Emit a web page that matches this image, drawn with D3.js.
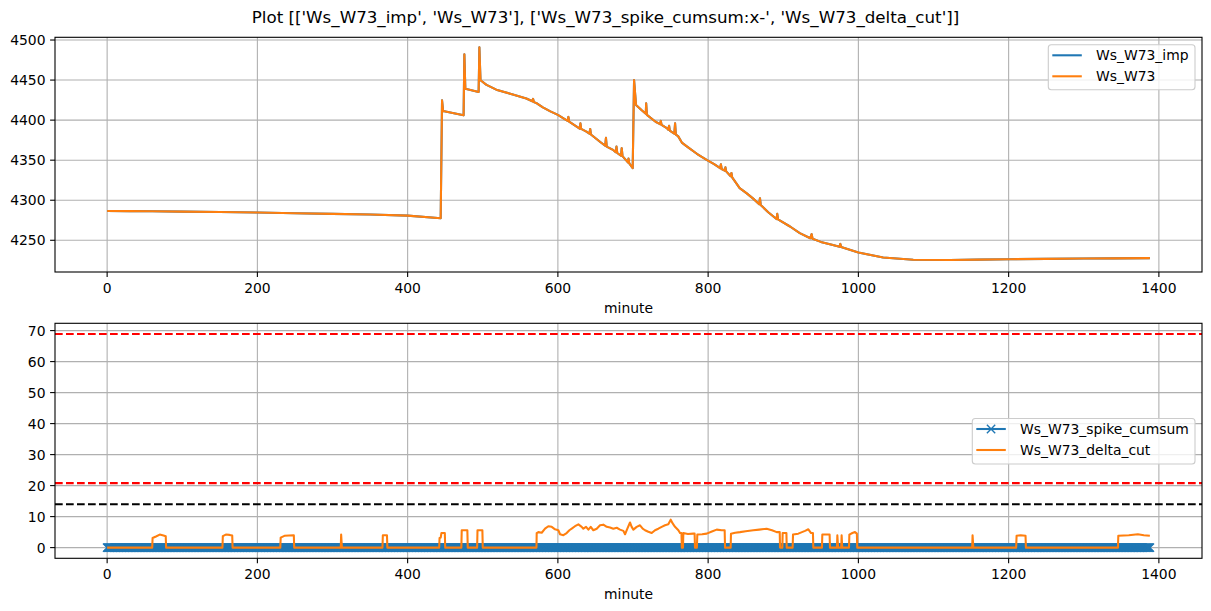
<!DOCTYPE html>
<html>
<head>
<meta charset="utf-8">
<script src="https://cdn.jsdelivr.net/npm/d3@7"></script>
<style>
  html, body { margin: 0; padding: 0; background: #fff; }
  svg { display: block; font-family: "DejaVu Sans", sans-serif; }
</style>
</head>
<body>
<svg id="chart" width="1211" height="611"></svg>
<script>
// ---------------- DATA ----------------
const titleText = "Plot [['Ws_W73_imp', 'Ws_W73'], ['Ws_W73_spike_cumsum:x-', 'Ws_W73_delta_cut']]";
const xTicks = [0, 200, 400, 600, 800, 1000, 1200, 1400];
const topYTicks = [4250, 4300, 4350, 4400, 4450, 4500];
const bottomYTicks = [0, 10, 20, 30, 40, 50, 60, 70];
const xLabel = "minute";
const topSeriesNames = ["Ws_W73_imp", "Ws_W73"];
const bottomSeriesNames = ["Ws_W73_spike_cumsum", "Ws_W73_delta_cut"];

// Ws_W73: [minute, value]
const wsW73 = [
  [0,4286.5],[30,4286.4],[60,4286.2],[100,4285.8],[150,4285.2],[200,4284.6],[250,4283.8],
  [300,4283.0],[350,4282.2],[400,4280.8],[444,4277.5],[445.8,4424.8],[447.2,4411.5],[460,4409],
  [474.5,4406],[475.5,4482.3],[476.8,4439.3],[494.5,4435.2],[495.5,4491],[497,4449.8],[505,4444],
  [518,4438],[540,4432],[558,4427],[566,4423.5],[567,4426.5],[568,4422.5],[572,4421],[580,4416],
  [590,4411],[600,4406.5],[608,4402],[613,4399],[614,4404],[615,4398],[625,4392],[629,4389.5],
  [630,4396],[631,4389],[638,4385.7],[642,4383],[643,4389],[644,4382],[656,4373],[663,4368],
  [664,4378],[665,4367],[674,4362.5],[677,4360],[678,4367],[679,4359],[684,4355.5],[685,4365],
  [686,4355],[693.5,4347],[694,4352],[695,4346],[699.6,4340],[701.4,4450],[704,4419],[712,4412],
  [717,4408],[717.5,4421],[718.5,4406.5],[730,4398],[736,4395],[737,4399],[738,4394],[745,4390],
  [747,4388],[748,4393],[749,4387],[755,4383],[756,4396],[757,4382],[760,4380],[765,4372],
  [772,4367],[785,4358],[798,4350.4],[808,4345],[816,4340],[817,4345],[818,4339],[822,4337],
  [823,4341],[824,4336],[830,4330],[831,4334],[832,4328.5],[842,4315],[851,4308.8],[860,4302],
  [868,4295],[869,4302.5],[870,4294],[880,4285],[891,4276.5],[892,4283],[893,4276],[909,4267.2],
  [922,4259],[936,4252.6],[937.8,4257.6],[939,4252],[950,4248],[966,4244],[975,4242],[976,4245.5],
  [977,4241.5],[1000,4234.7],[1033,4228.5],[1073,4225.6],[1122,4225.4],[1160,4225.8],[1202,4226.4],
  [1250,4226.8],[1300,4227.2],[1340,4227.4],[1388,4227.7]
];
// Ws_W73_imp coincides with Ws_W73 in the picture (fully hidden beneath it)
const wsW73Imp = wsW73;

// Ws_W73_delta_cut: [minute, value]
const deltaCut = [
  [0,0],[60,0],[60.5,3.1],[65,3.6],[70,4.2],[75,3.9],[78,3.7],[78.5,0],
  [153.5,0],[154,3.7],[158,4.2],[163,4.1],[166.5,3.9],[167,0],
  [230.5,0],[231,3.2],[236,3.8],[242,3.9],[248.5,4.0],[249,0],
  [311,0],[311.5,4.2],[312.5,0],
  [366.5,0],[367,4.0],[372.5,4.0],[373,0],
  [442,0],[442.5,3.1],[444,3.2],[445,4.7],[449.5,4.7],[450,0],
  [471.5,0],[472,5.6],[479.5,5.6],[480,0],
  [492.5,0],[493,5.6],[499.5,5.6],[500,0],
  [571.5,0],[571.8,4.7],[574,5.0],[578.5,4.8],[582.9,6.1],[587.3,6.9],[591.8,6.7],[596.2,5.9],
  [600.6,5.6],[602.9,4.3],[607.3,4.0],[611.7,4.7],[615.3,5.6],[618.4,6.1],[622.8,6.9],[627.3,7.5],
  [631.7,6.7],[633.9,6.1],[637.5,6.7],[640.6,5.8],[643.7,6.7],[647.2,5.6],[651.7,6.1],[656.1,7.2],
  [660.5,7.4],[665,6.7],[669.4,6.5],[673.8,6.1],[678.3,6.4],[682.7,5.8],[687.2,5.4],[689.4,4.3],
  [692.5,6.1],[696,8.1],[698.2,6.7],[700.5,5.8],[704.9,6.7],[709.3,7.2],[712.9,6.1],[716,5.6],
  [720.4,5.1],[724.9,4.7],[729.3,5.6],[733.7,6.1],[738.2,6.7],[742.6,7.2],[747,7.5],[750.2,9.0],
  [752.8,7.8],[755.9,6.7],[760.4,5.6],[762.6,4.7],[764.5,4.7],[765,0],[766.5,0],[767,4.7],
  [773,4.4],[780.3,4.5],[782,4.5],
  [782.5,0],[785,0],[785.6,4.2],[792,4.3],[798.1,4.5],[805,5.2],[811.4,5.8],[818,5.6],[822,5.6],[822.5,0],[830,0],
  [830.4,4.5],[836,4.8],[842.4,5.0],[850,5.3],[860.1,5.6],[868,5.8],[877.9,6.1],[885,5.6],[891.3,5.0],[895.3,5.0],[895.7,0],[898.8,0],
  [899.2,4.7],[904.2,4.7],[904.6,0],[912.5,0],[913,4.2],[920,4.5],[929,5.4],[933.4,5.9],[937,4.7],
  [939.5,4.7],[940,0],[951.5,0],[952,4.2],[961.7,4.2],[962.2,0],[971.5,0],[972,4.0],[973,0],
  [977.2,0],[977.7,4.0],[978.5,0],[987.5,0],[988,4.2],[992,4.7],[995.5,5.0],[998,4.5],[998.5,0],
  [1151.5,0],[1152,4.0],[1153,0],
  [1210,0],[1210.6,3.8],[1216,4.0],[1222.5,3.8],[1223,0],
  [1345.5,0],[1346,3.8],[1360,4.0],[1372,4.3],[1380,4.0],[1388,3.8]
];

// Ws_W73_spike_cumsum: zero at every minute 0..1388
const cumsumMinutes = d3.range(0, 1389);
const cumsumValues = cumsumMinutes.map(() => 0);

// Threshold lines
const redLines = [68.9, 20.8];
const blackLines = [14.0];

// ---------------- DRAW ----------------
const svg = d3.select("#chart");
const C0 = "#1f77b4", C1 = "#ff7f0e";
const L = 55, R = 1202;

const x = d3.scaleLinear().domain([-69.4, 1457.4]).range([L, R]);

const topBox = { t: 37.3, b: 272 };
const botBox = { t: 323.3, b: 558.3 };
const yTop = d3.scaleLinear().domain([4210.4, 4503.4]).range([topBox.b, topBox.t]);
const yBot = d3.scaleLinear().domain([-3.45, 72.35]).range([botBox.b, botBox.t]);

svg.append("text").attr("x", 605.5).attr("y", 23).attr("text-anchor", "middle")
  .attr("font-size", 16.7).attr("fill", "#000").text(titleText);

const defs = svg.append("defs");

function axesFrame(id, box, y, yTicks) {
  defs.append("clipPath").attr("id", id).append("rect")
    .attr("x", L).attr("y", box.t).attr("width", R - L).attr("height", box.b - box.t);
  const g = svg.append("g");
  g.selectAll(".gx").data(xTicks).join("line")
    .attr("x1", d => x(d)).attr("x2", d => x(d)).attr("y1", box.t).attr("y2", box.b)
    .attr("stroke", "#b0b0b0").attr("stroke-width", 1.1);
  g.selectAll(".gy").data(yTicks).join("line")
    .attr("x1", L).attr("x2", R).attr("y1", d => y(d)).attr("y2", d => y(d))
    .attr("stroke", "#b0b0b0").attr("stroke-width", 1.1);
  return g;
}

function axesDecor(box, y, yTicks) {
  const g = svg.append("g");
  g.append("rect").attr("x", L).attr("y", box.t).attr("width", R - L).attr("height", box.b - box.t)
    .attr("fill", "none").attr("stroke", "#000").attr("stroke-width", 1.1);
  g.selectAll(".tx").data(xTicks).join("line")
    .attr("x1", d => x(d)).attr("x2", d => x(d)).attr("y1", box.b).attr("y2", box.b + 4.9)
    .attr("stroke", "#000").attr("stroke-width", 1.1);
  g.selectAll(".lx").data(xTicks).join("text")
    .attr("x", d => x(d)).attr("y", box.b + 21).attr("text-anchor", "middle")
    .attr("font-size", 13.9).attr("fill", "#000").text(d => d);
  g.selectAll(".ty").data(yTicks).join("line")
    .attr("x1", L - 4.9).attr("x2", L).attr("y1", d => y(d)).attr("y2", d => y(d))
    .attr("stroke", "#000").attr("stroke-width", 1.1);
  g.selectAll(".ly").data(yTicks).join("text")
    .attr("x", L - 9.5).attr("y", d => y(d) + 5).attr("text-anchor", "end")
    .attr("font-size", 13.9).attr("fill", "#000").text(d => d);
  g.append("text").attr("x", (L + R) / 2).attr("y", box.b + 41).attr("text-anchor", "middle")
    .attr("font-size", 13.9).attr("fill", "#000").text(xLabel);
}

// ---- top axes ----
axesFrame("clipTop", topBox, yTop, topYTicks);
const gTop = svg.append("g").attr("clip-path", "url(#clipTop)");
const lineTop = d3.line().x(d => x(d[0])).y(d => yTop(d[1]));
gTop.append("path").datum(wsW73Imp).attr("d", lineTop).attr("fill", "none")
  .attr("stroke", C0).attr("stroke-width", 2.08).attr("stroke-linejoin", "round");
gTop.append("path").datum(wsW73).attr("d", lineTop).attr("fill", "none")
  .attr("stroke", C1).attr("stroke-width", 2.08).attr("stroke-linejoin", "round");
axesDecor(topBox, yTop, topYTicks);

// ---- bottom axes ----
axesFrame("clipBot", botBox, yBot, bottomYTicks);
const gBot = svg.append("g").attr("clip-path", "url(#clipBot)");
const cumsum = cumsumMinutes.map((m, i) => [m, cumsumValues[i]]);
const lineBot = d3.line().x(d => x(d[0])).y(d => yBot(d[1]));
gBot.append("path").datum(cumsum).attr("d", lineBot).attr("fill", "none")
  .attr("stroke", C0).attr("stroke-width", 2.08);
const ms = 4.17;
const xMarker = `M${-ms},${-ms}L${ms},${ms}M${-ms},${ms}L${ms},${-ms}`;
gBot.append("g").selectAll("path").data(cumsum).join("path")
  .attr("transform", d => `translate(${x(d[0])},${yBot(d[1])})`)
  .attr("d", xMarker).attr("fill", "none").attr("stroke", C0).attr("stroke-width", 1.39);
gBot.append("path").datum(deltaCut).attr("d", lineBot).attr("fill", "none")
  .attr("stroke", C1).attr("stroke-width", 2.08).attr("stroke-linejoin", "round");
gBot.selectAll(".hr").data(redLines).join("line")
  .attr("x1", L).attr("x2", R).attr("y1", d => yBot(d)).attr("y2", d => yBot(d))
  .attr("stroke", "#ff0000").attr("stroke-width", 2.08).attr("stroke-dasharray", "7.7,3.3");
gBot.selectAll(".hk").data(blackLines).join("line")
  .attr("x1", L).attr("x2", R).attr("y1", d => yBot(d)).attr("y2", d => yBot(d))
  .attr("stroke", "#000").attr("stroke-width", 2.08).attr("stroke-dasharray", "7.7,3.3");
axesDecor(botBox, yBot, bottomYTicks);

// ---- legends ----
function legend(x0, y0, w, h, rows, textX) {
  const g = svg.append("g");
  g.append("rect").attr("x", x0).attr("y", y0).attr("width", w).attr("height", h)
    .attr("rx", 3).attr("fill", "#fff").attr("fill-opacity", 0.8)
    .attr("stroke", "#cccccc").attr("stroke-width", 1.1);
  rows.forEach((r, i) => {
    const cy = y0 + 10.5 + i * 21;
    g.append("line").attr("x1", x0 + 4).attr("x2", x0 + 33.5).attr("y1", cy).attr("y2", cy)
      .attr("stroke", r.color).attr("stroke-width", 2.08);
    if (r.marker) {
      g.append("path").attr("transform", `translate(${x0 + 18.75},${cy})`).attr("d", xMarker)
        .attr("fill", "none").attr("stroke", r.color).attr("stroke-width", 1.39);
    }
    g.append("text").attr("x", textX).attr("y", cy + 5).attr("font-size", 13.9)
      .attr("fill", "#000").text(r.name);
  });
}
legend(1048.3, 44.8, 146.7, 45, [
  { name: topSeriesNames[0], color: C0 },
  { name: topSeriesNames[1], color: C1 }
], 1096);
legend(972.3, 418.5, 222.7, 45.5, [
  { name: bottomSeriesNames[0], color: C0, marker: true },
  { name: bottomSeriesNames[1], color: C1 }
], 1020);
</script>
</body>
</html>
